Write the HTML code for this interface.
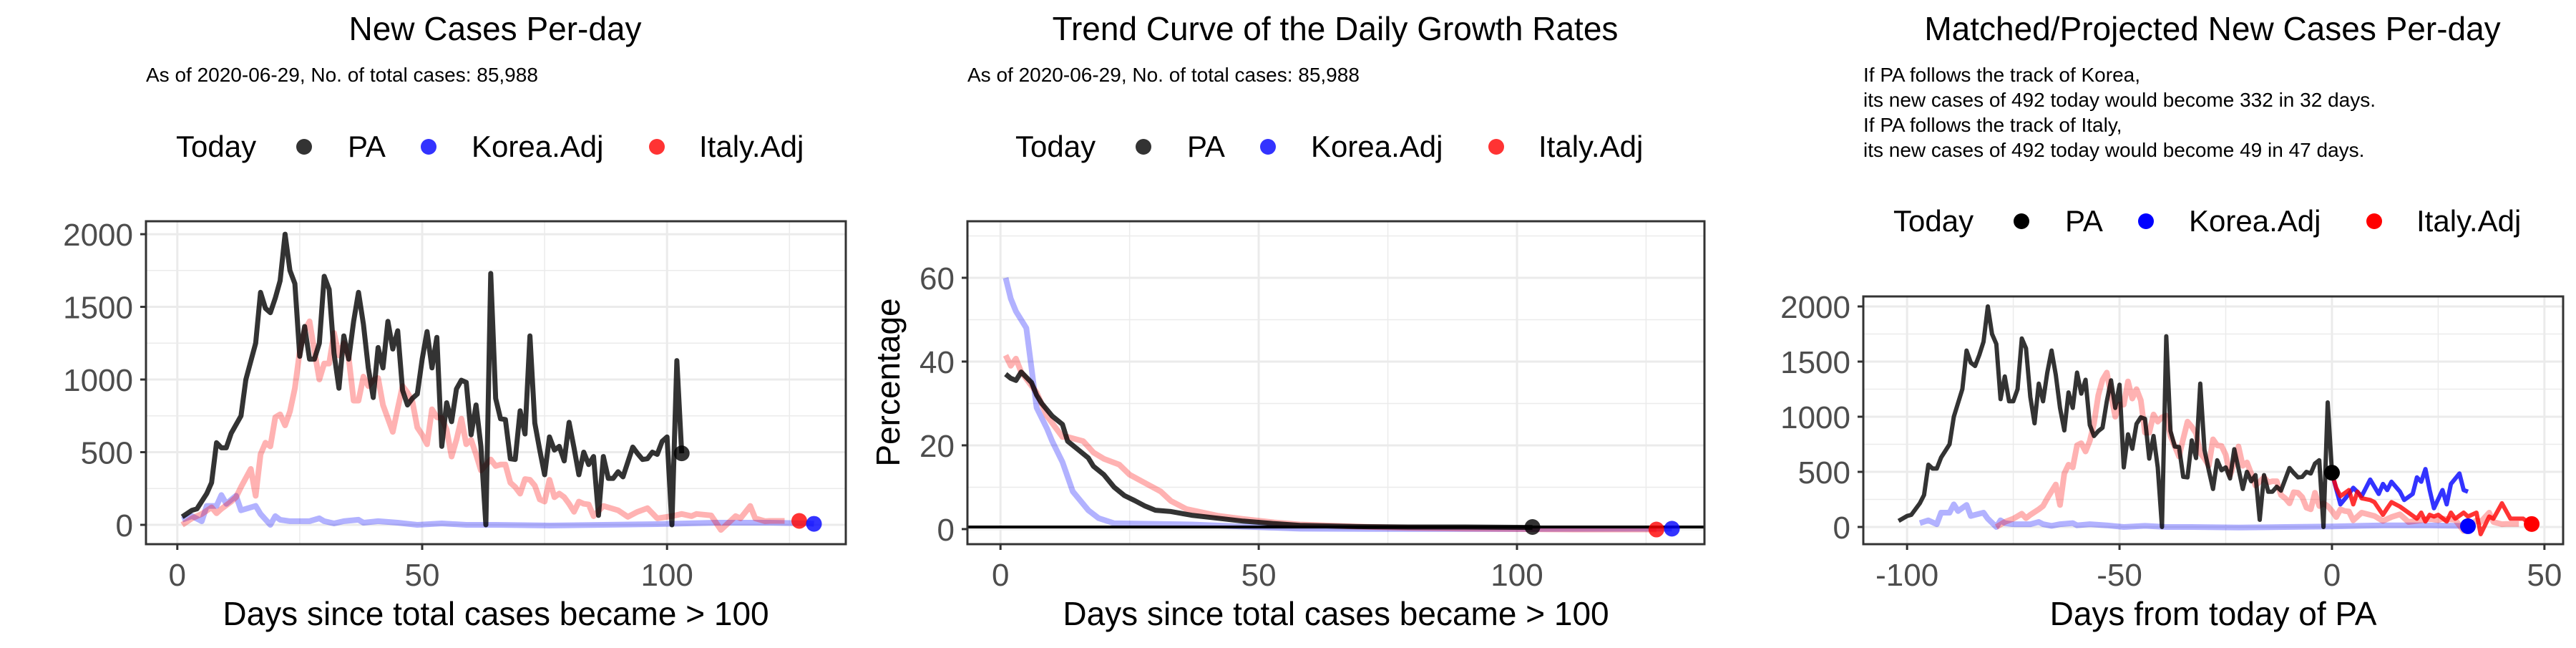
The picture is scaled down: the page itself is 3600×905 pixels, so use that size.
<!DOCTYPE html>
<html><head><meta charset="utf-8"><style>
html,body{margin:0;padding:0;background:#fff;}
svg text{font-family:"Liberation Sans",Arial,sans-serif;}
</style></head><body>
<svg id="chart" xmlns="http://www.w3.org/2000/svg" width="3600" height="900" viewBox="0 0 3600 900"></svg>
<script>
// ---- data: PA new cases per day (day since >100, value)
const paDays=[1,3,4,6,7,8,9,10,11,13,14,16,17,18,19,20,21,22,23,24,25,26,27,28,29,30,31,32,33,34,35,36,37,38,39,40,41,42,43,44,45,46,47,48,49,50,51,52,53,54,55,56,57,58,59,60,61,62,63,64,65,66,67,68,69,70,71,72,73,74,75,76,77,78,79,80,81,82,83,84,85,86,87,88,89,90,91,93,94,95,96,97,98,99,100,101,102,103];
const paVals=[55,100,110,215,290,565,530,530,630,750,1000,1250,1600,1490,1460,1560,1680,2000,1750,1660,1160,1365,1140,1140,1250,1710,1620,1180,940,1300,1140,1400,1600,1380,1080,876,1220,1080,1400,1210,1335,925,825,870,900,1140,1330,1080,1290,540,840,710,935,995,980,620,825,540,0,1730,870,730,725,455,450,785,625,1300,700,515,345,605,515,540,440,705,530,345,500,415,470,65,470,320,320,365,330,535,490,450,455,500,485,575,605,0,1130,492];
const itDays=[1,3,5,7,8,9,11,12,13,15,16,17,18,19,20,21,22,23,24,25,26,27,28,29,30,31,32,33,34,35,36,37,38,39,40,41,42,44,45,46,47,48,49,50,51,52,53,54,55,56,57,58,59,60,61,62,64,65,66,67,68,69,70,71,72,73,74,75,76,77,78,79,80,81,82,83,84,85,87,90,92,94,96,98,101,103,105,106,109,111,114,115,117,118,120,121,124,126,127];
const itVals=[0,45,75,120,80,110,160,190,260,385,200,485,565,540,740,760,685,780,940,1195,1335,1400,1195,1000,1110,1110,1320,1165,1250,1150,855,855,1020,955,995,1010,825,640,800,955,910,850,670,620,555,795,740,735,655,470,585,730,555,585,485,375,450,405,415,415,290,260,215,315,310,270,175,160,310,190,215,190,145,90,160,145,140,60,130,100,55,90,115,45,60,75,60,75,65,-35,60,45,130,45,25,27,27];
const koDays=[1,3,5,6,8,9,10,12,13,14,16,17,19,20,21,23,27,29,30,32,34,37,38,41,45,49,54,59,65,76,87,98,110,121,129,130];
const koVals=[35,60,25,130,130,205,145,200,100,110,130,75,0,60,35,25,25,45,25,10,25,35,15,25,15,0,10,0,0,-5,0,5,15,15,10,7];
// growth rates (%)
const grPaDays=[1,2,3,4,6,7,8,10,12,13,15,17,18,20,22,24,26,28,30,33,37,42,47,53,58,69,79,90,103];
const grPaVals=[37,36,35.5,37.5,35,32,30,27,25,21,19,17,15,13,10,8,6.8,5.5,4.5,4.2,3.3,2.6,1.9,1.3,0.9,0.6,0.5,0.5,0.4];
const grItDays=[1,2,3,4,7,9,12,13,16,18,20,23,25,28,31,33,36,42,47,53,58,69,79,90,100,111,127];
const grItVals=[41.5,39,40.7,37.5,32.6,27,22,22,21,18.3,16.8,15.4,13,11,9,6.7,4.8,3.2,2.4,1.6,1.1,0.6,0.3,0.1,0,-0.1,-0.1];
const grKoDays=[1,2,3,5,7,9,10,12,14,17,19,22,26,37,47,58,79,100,130];
const grKoVals=[60,55,52,48,29,24,21,16,9,4.5,2.6,1.4,1.3,1.1,0.6,0.1,0,0,0.1];
// projections (days from today of PA)
const prKoDays=[0,2,4,5,7,8,9,11,12,13,14,16,17,19,20,21,22,23,24,26,27,28,30,31,32];
const prKoVals=[485,205,300,355,280,355,430,300,390,335,410,320,245,300,450,410,525,335,170,335,205,390,485,335,320];
const prItDays=[0,1,2,4,5,6,7,9,10,12,13,14,16,18,20,21,22,23,24,25,27,28,29,31,32,34,35,37,38,40,42,43,45,47];
const prItVals=[485,355,280,335,205,320,260,245,225,110,170,225,185,130,75,130,50,110,95,110,50,130,75,130,95,130,-65,95,75,215,75,75,75,20];
const paShift=-103, koShift=-98, itShift=-80;
const todayPA=[103,492], todayIt=[127,27], todayKo=[130,7];
const yTicks1=[0,500,1000,1500,2000], xTicks1=[0,50,100];
const yTicks2=[0,20,40,60], xTicks3=[-100,-50,0,50];

const svg=document.getElementById('chart');
const NS='http://www.w3.org/2000/svg';
function el(tag,attrs,parent){const e=document.createElementNS(NS,tag);for(const k in attrs)e.setAttribute(k,attrs[k]);(parent||svg).appendChild(e);return e;}
function txt(s,attrs,parent){const e=el('text',attrs,parent);e.textContent=s;return e;}

function panel(p){
  const g=el('g',{});
  
  
  const X=v=>p.x0+(v-p.xmin)/(p.xmax-p.xmin)*(p.x1-p.x0);
  const Y=v=>p.y1-(v-p.ymin)/(p.ymax-p.ymin)*(p.y1-p.y0);
  const t=txt(p.title,{x:p.titleX,y:56,'font-size':46,'text-anchor':'middle',fill:'#000'},g);
  
  
  p.sub.forEach((s,i)=>{const st=txt(s,{x:p.x0,y:p.subY+i*35,'font-size':28,fill:'#000'},g);
    
    });
  const L=p.leg, ly=p.legY;
  const lg=el('g',{},g);
  
  
  txt('Today',{x:L,y:ly+14,'font-size':42,fill:'#000'},lg);
  const items=[['PA',p.legCols[0],179,240],['Korea.Adj',p.legCols[1],353,413],['Italy.Adj',p.legCols[2],672,731]];
  items.forEach(it=>{const e=el('g',{},lg);
    
    
    el('circle',{cx:L+it[2],cy:ly,r:11,fill:it[1]},e);
    txt(it[0],{x:L+it[3],y:ly+14,'font-size':42,fill:'#000'},e);});
  p.xMinor.forEach(v=>el('line',{x1:X(v),x2:X(v),y1:p.y0,y2:p.y1,stroke:'#ebebeb','stroke-width':1.5},g));
  p.yMinor.forEach(v=>el('line',{x1:p.x0,x2:p.x1,y1:Y(v),y2:Y(v),stroke:'#ebebeb','stroke-width':1.5},g));
  p.xt.forEach(v=>el('line',{x1:X(v),x2:X(v),y1:p.y0,y2:p.y1,stroke:'#ebebeb','stroke-width':3},g));
  p.yt.forEach(v=>el('line',{x1:p.x0,x2:p.x1,y1:Y(v),y2:Y(v),stroke:'#ebebeb','stroke-width':3},g));
  const clipId='clip'+p.name;
  const cp=el('clipPath',{id:clipId},g);el('rect',{x:p.x0,y:p.y0,width:p.x1-p.x0,height:p.y1-p.y0},cp);
  const plot=el('g',{'clip-path':'url(#'+clipId+')'},g);
  p.series.forEach(s=>{
    const d=s.days.map((dd,i)=>(i?'L':'M')+X(dd+(s.shift||0)).toFixed(1)+','+Y(s.vals[i]).toFixed(1)).join(' ');
    const pa=el('path',{d:d,fill:'none',stroke:s.color,'stroke-width':s.w,'stroke-linejoin':'round','stroke-opacity':s.op},plot);
    
    
  });
  if(p.hline!==undefined){el('line',{x1:p.x0,x2:p.x1,y1:Y(p.hline),y2:Y(p.hline),stroke:'#000','stroke-width':4},plot);}
  p.dots.forEach(dt=>{const c=el('circle',{cx:X(dt[0]),cy:Y(dt[1]),r:11,fill:dt[2],'fill-opacity':dt[3]},plot);
    
    });
  el('rect',{x:p.x0,y:p.y0,width:p.x1-p.x0,height:p.y1-p.y0,fill:'none',stroke:'#333','stroke-width':3},g);
  p.xt.forEach(v=>{el('line',{x1:X(v),x2:X(v),y1:p.y1,y2:p.y1+8,stroke:'#333','stroke-width':3},g);
    const tl=txt(String(v),{x:X(v),y:p.y1+58,'font-size':44,'text-anchor':'middle',fill:'#4d4d4d'},g);
    
    });
  p.yt.forEach(v=>{el('line',{x1:p.x0-8,x2:p.x0,y1:Y(v),y2:Y(v),stroke:'#333','stroke-width':3},g);
    const tl=txt(String(v),{x:p.x0-18,y:Y(v)+16,'font-size':44,'text-anchor':'end',fill:'#4d4d4d'},g);
    
    });
  const xa=txt(p.xlab,{x:(p.x0+p.x1)/2,y:873,'font-size':46,'text-anchor':'middle',fill:'#000'},g);
  
  
  if(p.ylab){const ya=txt(p.ylab,{x:0,y:0,'font-size':46,'text-anchor':'middle',fill:'#000',transform:'translate(1257,534) rotate(-90)'},g);
    
    }
}
const subA=['As of 2020-06-29, No. of total cases: 85,988'];
const fadedCols=['rgba(0,0,0,0.8)','rgba(0,0,255,0.8)','rgba(255,0,0,0.8)'];
panel({name:'new-cases-panel',title:'New Cases Per-day',titleX:692,sub:subA,subY:114,leg:246,legY:205,legCols:fadedCols,
  x0:204,x1:1182,y0:309,y1:760,xmin:-6.4,xmax:136.5,ymin:-133,ymax:2089,xt:xTicks1,yt:yTicks1,xMinor:[25,75,125],yMinor:[250,750,1250,1750],
  series:[{name:'korea-line',days:koDays,vals:koVals,color:'#0000ff',op:0.3,w:8},
          {name:'italy-line',days:itDays,vals:itVals,color:'#ff0000',op:0.3,w:8},
          {name:'pa-line',days:paDays,vals:paVals,color:'#000',op:0.8,w:7}],
  dots:[[todayPA[0],todayPA[1],'#000',0.8],[todayIt[0],todayIt[1],'#f00',0.8],[todayKo[0],todayKo[1],'#00f',0.8]],
  xlab:'Days since total cases became > 100'});
panel({name:'growth-rate-panel',title:'Trend Curve of the Daily Growth Rates',titleX:1866,sub:subA,subY:114,leg:1419,legY:205,legCols:fadedCols,
  x0:1352,x1:2382,y0:309,y1:760,xmin:-6.4,xmax:136.3,ymin:-3.6,ymax:73.5,xt:xTicks1,yt:yTicks2,xMinor:[25,75,125],yMinor:[10,30,50,70],
  series:[{name:'korea-growth-line',days:grKoDays,vals:grKoVals,color:'#0000ff',op:0.3,w:8},
          {name:'italy-growth-line',days:grItDays,vals:grItVals,color:'#ff0000',op:0.3,w:8},
          {name:'pa-growth-line',days:grPaDays,vals:grPaVals,color:'#000',op:0.8,w:7}],
  hline:0.5,
  dots:[[103,0.5,'#000',0.8],[127,-0.1,'#f00',0.8],[130,0.1,'#00f',0.8]],
  xlab:'Days since total cases became > 100',ylab:'Percentage'});
panel({name:'projection-panel',title:'Matched/Projected New Cases Per-day',titleX:3092,
  sub:['If PA follows the track of Korea,','its new cases of 492 today would become 332 in 32 days.','If PA follows the track of Italy,','its new cases of 492 today would become 49 in 47 days.'],
  subY:114,leg:2646,legY:309,legCols:['#000','#00f','#f00'],
  x0:2604,x1:3582,y0:414,y1:760,xmin:-110.3,xmax:54.4,ymin:-156,ymax:2091,xt:xTicks3,yt:yTicks1,xMinor:[-75,-25,25],yMinor:[250,750,1250,1750],
  series:[{name:'korea-matched-line',days:koDays,vals:koVals,shift:koShift,color:'#0000ff',op:0.3,w:8},
          {name:'italy-matched-line',days:itDays,vals:itVals,shift:itShift,color:'#ff0000',op:0.3,w:8},
          {name:'pa-matched-line',days:paDays,vals:paVals,shift:paShift,color:'#000',op:0.8,w:6},
          {name:'korea-projection-line',days:prKoDays,vals:prKoVals,color:'#0000ff',op:0.8,w:6},
          {name:'italy-projection-line',days:prItDays,vals:prItVals,color:'#ff0000',op:0.8,w:6}],
  dots:[[0,492,'#000',1],[32,7,'#00f',1],[47,27,'#f00',1]],
  xlab:'Days from today of PA'});
</script>
</body></html>
